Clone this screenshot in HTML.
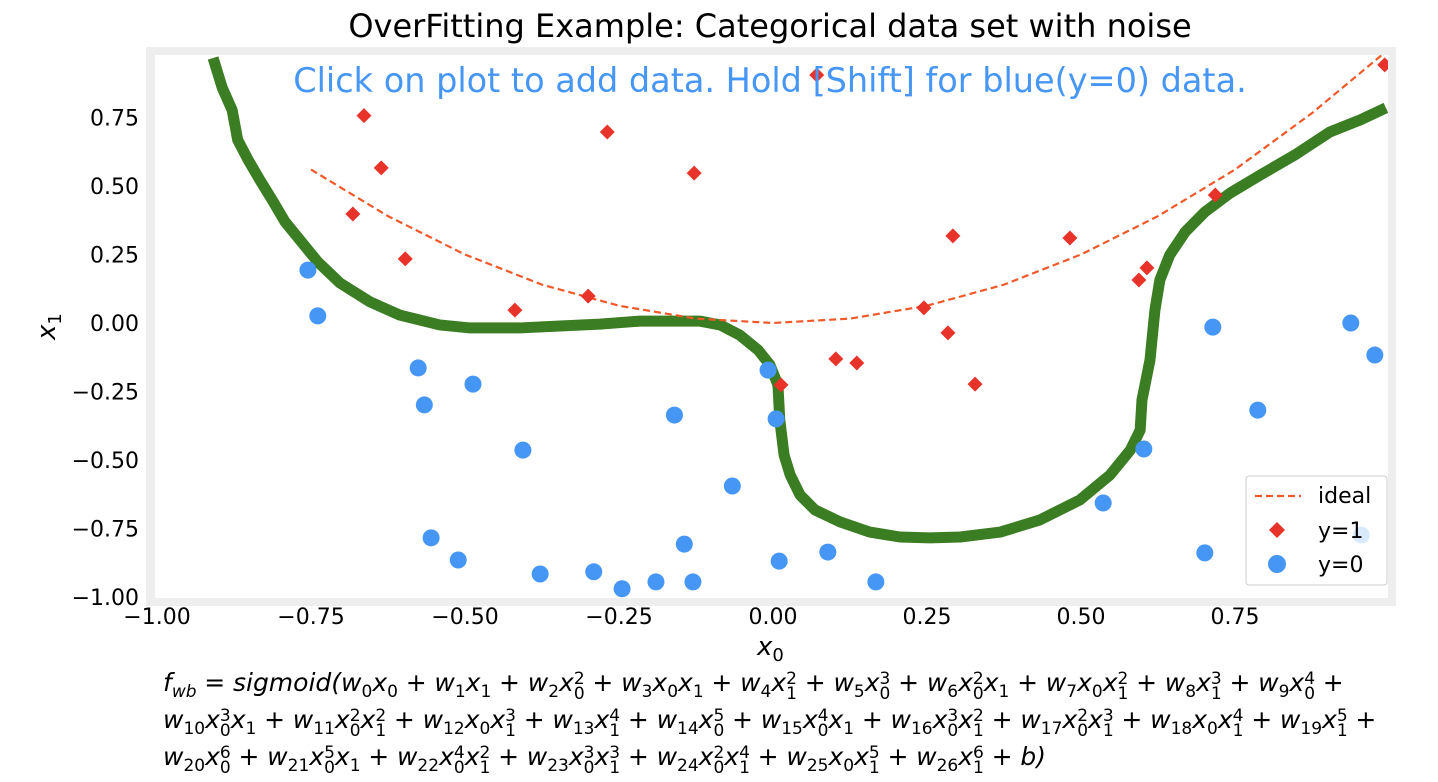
<!DOCTYPE html>
<html><head><meta charset="utf-8">
<style>
body{margin:0;background:#fff;width:1438px;height:782px;overflow:hidden;font-family:"DejaVu Sans","Liberation Sans",sans-serif;}
#formula{position:absolute;left:163px;top:668px;font-family:"DejaVu Sans",sans-serif;font-style:italic;font-size:25px;color:#000;}
.fl{height:37px;white-space:nowrap;}
.ss{display:inline-block;vertical-align:-0.45em;line-height:0.85;font-size:0.68em;font-style:normal;}
.ss span{display:block;}
.sb{font-size:0.68em;font-style:normal;vertical-align:-0.35em;}
.sbi{font-size:0.68em;vertical-align:-0.35em;}
.op{font-style:normal;padding:0 0.31em;}
</style></head>
<body>
<svg id="chart" width="1438" height="664" style="position:absolute;left:0;top:0"></svg>
<div id="formula"></div>
<script>
const xTicks=[-1.00,-0.75,-0.50,-0.25,0.00,0.25,0.50,0.75];
const yTicks=[-1.00,-0.75,-0.50,-0.25,0.00,0.25,0.50,0.75];
const posX0=[-0.664,-0.269,-0.636,-0.128,-0.682,0.292,0.482,-0.597,0.607,0.594,0.718,-0.300,-0.419,0.245,0.284,0.102,0.136,0.013,0.328,0.071,0.993];
const posX1=[0.757,0.697,0.566,0.547,0.398,0.318,0.310,0.234,0.201,0.157,0.467,0.098,0.047,0.055,-0.036,-0.131,-0.146,-0.226,-0.223,0.905,0.942];
const negX0=[-0.755,-0.739,-0.576,-0.487,-0.566,-0.160,0.005,-0.008,-0.406,0.787,0.714,0.938,0.977,0.602,-0.066,0.536,-0.555,-0.511,-0.378,-0.291,-0.245,-0.190,-0.144,-0.130,0.010,0.089,0.167,0.701,0.955];
const negX1=[0.193,0.026,-0.164,-0.223,-0.299,-0.336,-0.350,-0.172,-0.464,-0.318,-0.015,0.000,-0.117,-0.460,-0.595,-0.657,-0.784,-0.865,-0.916,-0.908,-0.970,-0.945,-0.807,-0.945,-0.869,-0.836,-0.945,-0.839,-0.774];
const idealX0=[-0.75,-0.625,-0.5,-0.375,-0.25,-0.125,0,0.125,0.25,0.375,0.5,0.625,0.75,0.875,1.0];
const idealX1=[0.56,0.39,0.25,0.14,0.063,0.016,0,0.016,0.063,0.14,0.25,0.39,0.56,0.766,1.0];
const bndX0=[-0.909,-0.894,-0.878,-0.869,-0.852,-0.833,-0.813,-0.792,-0.768,-0.739,-0.703,-0.654,-0.606,-0.541,-0.492,-0.411,-0.346,-0.281,-0.216,-0.119,-0.086,-0.054,-0.024,-0.005,0.008,0.011,0.018,0.028,0.044,0.068,0.109,0.157,0.206,0.255,0.304,0.369,0.433,0.498,0.547,0.580,0.596,0.599,0.612,0.620,0.628,0.644,0.669,0.701,0.742,0.791,0.847,0.904,0.953,0.995];
const bndX1=[0.967,0.858,0.777,0.668,0.595,0.522,0.449,0.369,0.303,0.223,0.146,0.077,0.029,-0.007,-0.018,-0.018,-0.011,-0.004,0.007,0.007,-0.007,-0.044,-0.099,-0.153,-0.226,-0.354,-0.482,-0.555,-0.628,-0.682,-0.726,-0.763,-0.781,-0.784,-0.781,-0.763,-0.719,-0.646,-0.555,-0.464,-0.391,-0.281,-0.135,0.047,0.157,0.248,0.332,0.405,0.474,0.540,0.613,0.697,0.741,0.785];
const L=155,R=1388,T=52,B=597;
const sx=v=>773+v*616, sy=v=>323-v*274;
const NS="http://www.w3.org/2000/svg";
const svg=document.getElementById('chart');
function mk(t,a,p){const e=document.createElementNS(NS,t);for(const k in a)e.setAttribute(k,a[k]);(p||svg).appendChild(e);return e;}
const frame=mk('rect',{x:146,y:47,width:1250,height:559,fill:'#eeeeee'});

const bg=mk('rect',{x:L,y:55,width:R-L,height:B-55+1,fill:'#fff'});

const title=mk('text',{x:770,y:37,'text-anchor':'middle','font-size':32,fill:'#000'});title.textContent='OverFitting Example: Categorical data set with noise';

xTicks.forEach(v=>{const t=mk('text',{x:sx(v),y:624,'text-anchor':'middle','font-size':22,fill:'#000'});t.textContent=(v<0?'\u2212':'')+Math.abs(v).toFixed(2);
});
yTicks.forEach(v=>{const t=mk('text',{x:139,y:sy(v)+8,'text-anchor':'end','font-size':22,fill:'#000'});t.textContent=(v<0?'\u2212':'')+Math.abs(v).toFixed(2);
});
const xl=mk('text',{x:757,y:655,'font-size':26,'font-style':'italic',fill:'#000'});xl.innerHTML='x<tspan font-size="18" dy="6" font-style="normal">0</tspan>';

const yl=mk('text',{x:0,y:0,'font-size':26,'font-style':'italic',fill:'#000',transform:'translate(55,340) rotate(-90)'});yl.innerHTML='x<tspan font-size="18" dy="6" font-style="normal">1</tspan>';

const g=mk('g',{'clip-path':'url(#cp)'});
const cp=mk('clipPath',{id:'cp'});mk('rect',{x:L,y:55,width:R-L,height:B-55+2},cp);
const bnd=mk('polyline',{points:bndX0.map((v,i)=>sx(v)+','+sy(bndX1[i])).join(' '),fill:'none',stroke:'#3a7d22','stroke-width':11,'stroke-linejoin':'round'},g);

let d='';idealX0.forEach((v,i)=>{d+=(i?' L':'M')+sx(v)+','+sy(idealX1[i]);});
const id=mk('path',{d:d,fill:'none',stroke:'#f0592a','stroke-width':2.2,'stroke-dasharray':'7,4'},g);

posX0.forEach((v,i)=>{const x=sx(v),y=sy(posX1[i]);const p=mk('polygon',{points:`${x},${y-7.5} ${x+7.5},${y} ${x},${y+7.5} ${x-7.5},${y}`,fill:'#e8332a'},g);
});
negX0.forEach((v,i)=>{const c=mk('circle',{cx:sx(v),cy:sy(negX1[i]),r:8.5,fill:'#4696f5'},g);
});
const sub=mk('text',{x:770,y:92,'text-anchor':'middle','font-size':33.5,fill:'#4696f5'});sub.textContent='Click on plot to add data. Hold [Shift] for blue(y=0) data.';

const lg=mk('g',{});
mk('rect',{x:1246,y:476,width:141,height:109,rx:3,fill:'rgba(255,255,255,0.8)',stroke:'#ccc','stroke-width':1},lg);
mk('line',{x1:1255,y1:496,x2:1301,y2:496,stroke:'#f0592a','stroke-width':2.2,'stroke-dasharray':'7,4'},lg);
mk('polygon',{points:'1277,522 1285,530 1277,538 1269,530',fill:'#e8332a'},lg);
mk('circle',{cx:1277,cy:564,r:9,fill:'#4696f5'},lg);
[['ideal',503],['y=1',538],['y=0',572]].forEach(([t,y])=>{const e=mk('text',{x:1318,y:y,'font-size':22,fill:'#000'},lg);e.textContent=t;
});
function X(sb,sp){return sp?`x<span class="ss"><span>${sp}</span><span>${sb}</span></span>`:`x<span class="sb">${sb}</span>`;}
function W(n){return `w<span class="sb">${n}</span>`;}
const P='<span class="op">+</span>';
function term(n,a,b){let s=W(n);if(a)s+=X(0,a>1?a:'');if(b)s+=X(1,b>1?b:'');return s;}
const l1='f<span class="sbi">wb</span><span class="op">=</span>sigmoid('+[[0,1,0],[1,0,1],[2,2,0],[3,1,1],[4,0,2],[5,3,0],[6,2,1],[7,1,2],[8,0,3],[9,4,0]].map(t=>term(...t)).join(P)+P;
const l2=[[10,3,1],[11,2,2],[12,1,3],[13,0,4],[14,5,0],[15,4,1],[16,3,2],[17,2,3],[18,1,4],[19,0,5]].map(t=>term(...t)).join(P)+P;
const l3=[[20,6,0],[21,5,1],[22,4,2],[23,3,3],[24,2,4],[25,1,5],[26,0,6]].map(t=>term(...t)).join(P)+P+'b)';
const F=document.getElementById('formula');
[l1,l2,l3].forEach(h=>{const div=document.createElement('div');div.className='fl';div.innerHTML=h;


F.appendChild(div);});
</script>
</body></html>
